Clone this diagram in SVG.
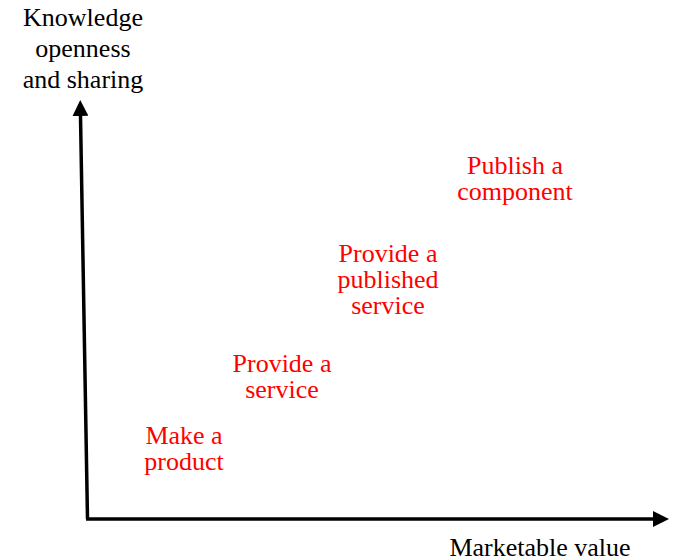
<svg xmlns="http://www.w3.org/2000/svg" width="675" height="560" viewBox="0 0 675 560">
<style>
text{font-family:"Liberation Serif","Times New Roman",serif;font-size:26px;text-anchor:middle}
.b{fill:#000}
.r{fill:#ff0000}
.ax{stroke:#000;stroke-width:3.5;fill:none}
</style>
<defs>
<marker id="ah" markerWidth="16" markerHeight="16" viewBox="0 0 16 16" refX="0" refY="8" orient="auto" markerUnits="userSpaceOnUse">
<path d="M0,0 L16,8 L0,16 Z" fill="#000"/>
</marker>
</defs>
<rect width="675" height="560" fill="#fff"/>
<g id="connectors">
<path class="ax" d="M87.5,519 L80.5,116" marker-end="url(#ah)"/>
<path class="ax" d="M86,519 L653,519" marker-end="url(#ah)"/>
</g>
<g id="y-axis-label">
<text class="b" x="83" y="26">Knowledge</text>
<text class="b" x="83" y="57">openness</text>
<text class="b" x="83" y="88">and sharing</text>
</g>
<g id="x-axis-label">
<text class="b" x="540" y="556">Marketable value</text>
</g>
<g id="publish-component">
<text class="r" x="515" y="174">Publish a</text>
<text class="r" x="515" y="200">component</text>
</g>
<g id="provide-published-service">
<text class="r" x="388" y="262">Provide a</text>
<text class="r" x="388" y="288">published</text>
<text class="r" x="388" y="314">service</text>
</g>
<g id="provide-service">
<text class="r" x="282" y="372">Provide a</text>
<text class="r" x="282" y="398">service</text>
</g>
<g id="make-product">
<text class="r" x="184" y="444">Make a</text>
<text class="r" x="184" y="470">product</text>
</g>
</svg>
